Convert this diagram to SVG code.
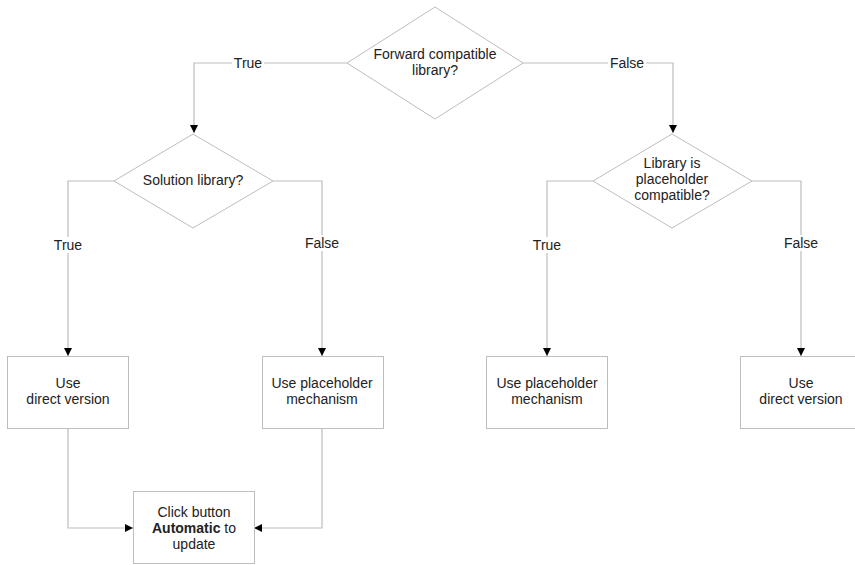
<svg xmlns="http://www.w3.org/2000/svg" width="855" height="565" viewBox="0 0 855 565">
<defs>
<marker id="arr" viewBox="0 0 10 10" refX="10" refY="5" markerWidth="8" markerHeight="8" markerUnits="userSpaceOnUse" orient="auto">
<path d="M0,0 L10,5 L0,10 Z" fill="#000"/>
</marker>
<style>
.shape{fill:#fff;stroke:#bdbdbd;stroke-width:1}
.edge{fill:none;stroke:#bdbdbd;stroke-width:1.2;marker-end:url(#arr)}
text{font-family:"Liberation Sans",Arial,sans-serif;font-size:14px;fill:#222;text-anchor:middle}
.lblbg{fill:#fff}
</style>
</defs>
<rect width="855" height="565" fill="#fff"/>
<g id="connectors">
<path class="edge" d="M347,63 H194 V133"/>
<path class="edge" d="M523,63 H673 V133"/>
<path class="edge" d="M114,181 H68 V356"/>
<path class="edge" d="M273,181 H322 V356"/>
<path class="edge" d="M593,181 H547 V356"/>
<path class="edge" d="M752,181 H801 V356"/>
<path class="edge" d="M68,428 V528 H133"/>
<path class="edge" d="M322,428 V528 H254"/>
<rect class="lblbg" x="232" y="55" width="32" height="16"/>
<text x="248" y="68">True</text>
<rect class="lblbg" x="608" y="55" width="38" height="16"/>
<text x="627" y="68">False</text>
<rect class="lblbg" x="52" y="237" width="32" height="16"/>
<text x="68" y="250">True</text>
<rect class="lblbg" x="303" y="235" width="38" height="16"/>
<text x="322" y="248">False</text>
<rect class="lblbg" x="531" y="237" width="32" height="16"/>
<text x="547" y="250">True</text>
<rect class="lblbg" x="782" y="235" width="38" height="16"/>
<text x="801" y="248">False</text>
</g>
<g id="forward">
<polygon class="shape" points="435,7 523,63 435,119 347,63"/>
<text x="435" y="59">Forward compatible</text>
<text x="435" y="75">library?</text>
</g>
<g id="solution">
<polygon class="shape" points="193,134 273,181 193,228 114,181"/>
<text x="193" y="185">Solution library?</text>
</g>
<g id="placeholder-compat">
<polygon class="shape" points="672,134 752,181 672,228 593,181"/>
<text x="672" y="168">Library is</text>
<text x="672" y="184">placeholder</text>
<text x="672" y="200">compatible?</text>
</g>
<g id="direct-left">
<rect class="shape" x="7.5" y="356.5" width="121" height="72"/>
<text x="68" y="388">Use</text>
<text x="68" y="404">direct version</text>
</g>
<g id="placeholder-left">
<rect class="shape" x="262.5" y="356.5" width="121" height="72"/>
<text x="322" y="388">Use placeholder</text>
<text x="322" y="404">mechanism</text>
</g>
<g id="placeholder-right">
<rect class="shape" x="486.5" y="356.5" width="121" height="72"/>
<text x="547" y="388">Use placeholder</text>
<text x="547" y="404">mechanism</text>
</g>
<g id="direct-right">
<rect class="shape" x="740.5" y="356.5" width="121" height="72"/>
<text x="801" y="388">Use</text>
<text x="801" y="404">direct version</text>
</g>
<g id="automatic">
<rect class="shape" x="133.5" y="491.5" width="121" height="72"/>
<text x="194" y="517">Click button</text>
<text x="194" y="533"><tspan font-weight="bold">Automatic</tspan> to</text>
<text x="194" y="549">update</text>
</g>
</svg>
